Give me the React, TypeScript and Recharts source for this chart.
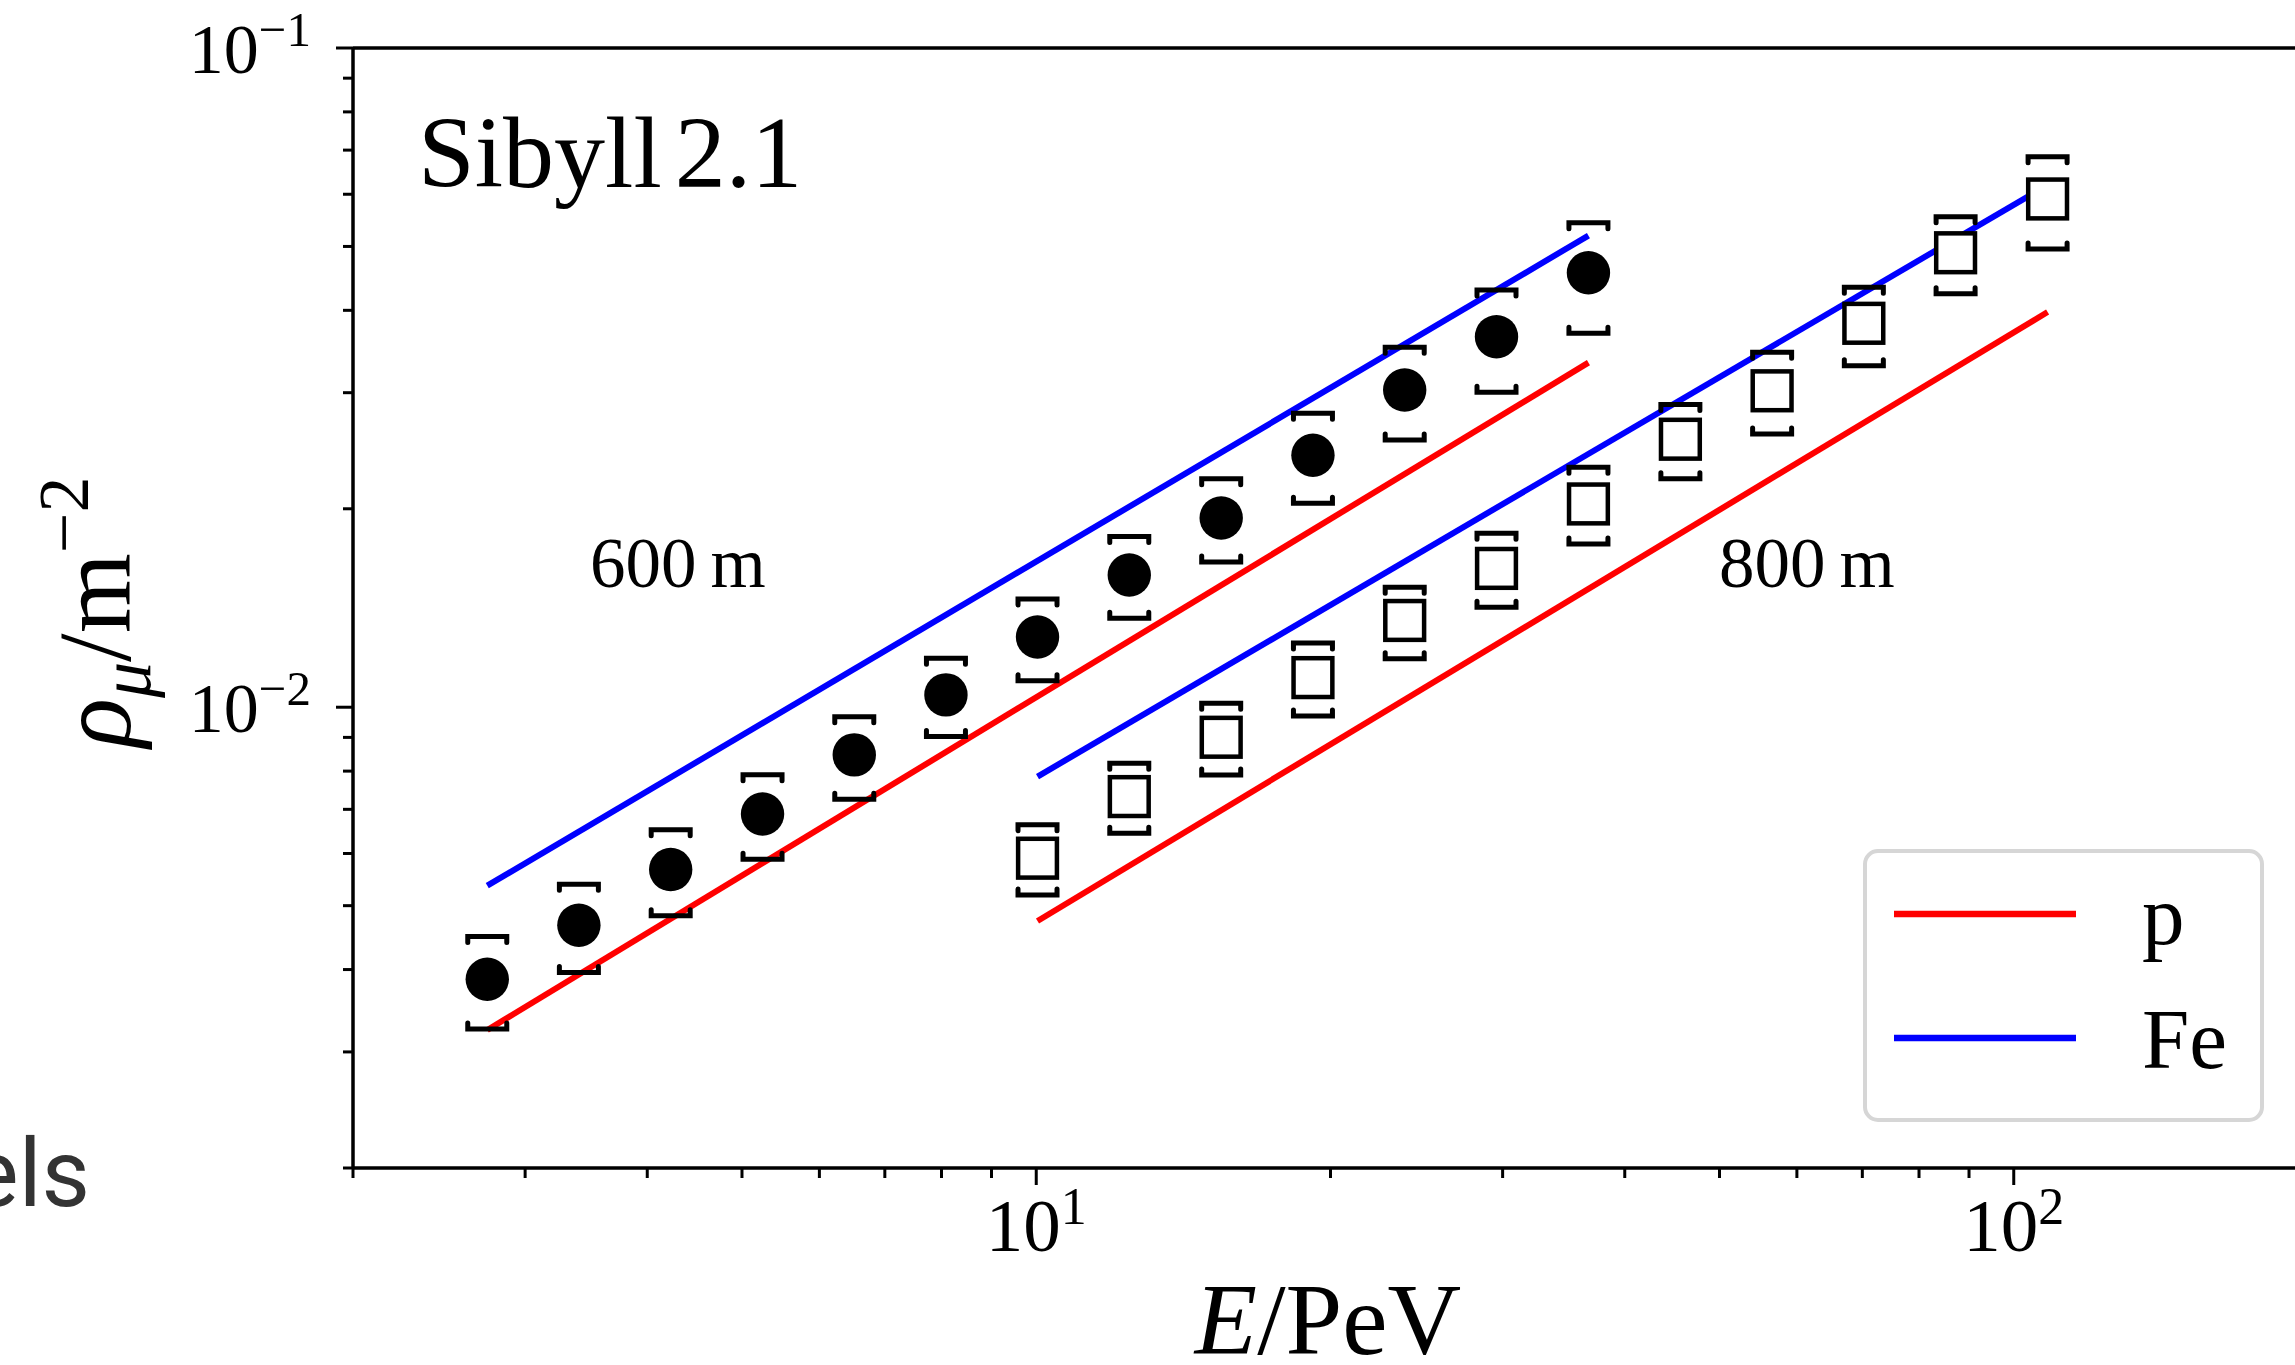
import React from 'react';
import { ComposedChart, Line, Scatter, XAxis, YAxis, ReferenceLine } from 'recharts';

// shower energies (PeV), same binning for both distances
const energy600 = [2.744, 3.405, 4.227, 5.248, 6.514, 8.084, 10.03, 12.45, 15.46, 19.19, 23.82, 29.57, 36.72];
const energy800 = [10.03, 12.45, 15.46, 19.19, 23.82, 29.57, 36.72, 45.6, 56.6, 70.25, 87.2, 108.3];

// muon density at 600 m (filled circles) with systematic brackets
const rho600 = [0.003867, 0.00467, 0.005672, 0.006887, 0.008466, 0.01044, 0.01278, 0.01587, 0.01937, 0.02411, 0.03028, 0.03648, 0.04561];
const rho600Hi = [0.004488, 0.005388, 0.006516, 0.007902, 0.009676, 0.01187, 0.01459, 0.01815, 0.02222, 0.02791, 0.03516, 0.04295, 0.0543];
const rho600Lo = [0.003251, 0.003958, 0.004825, 0.005882, 0.007252, 0.009024, 0.01097, 0.01365, 0.0166, 0.02039, 0.02543, 0.03004, 0.03692];

// muon density at 800 m (open squares)
const rho800 = [0.005902, 0.007319, 0.009004, 0.01109, 0.01354, 0.01624, 0.02034, 0.0255, 0.0302, 0.03823, 0.04891, 0.05902];
const rho800Hi = [0.006631, 0.008225, 0.01014, 0.01252, 0.0152, 0.01836, 0.02312, 0.02879, 0.03454, 0.04336, 0.05546, 0.06839];
const rho800Lo = [0.005192, 0.00644, 0.007893, 0.009701, 0.01184, 0.01418, 0.01769, 0.02222, 0.02598, 0.03297, 0.04237, 0.04955];

// Sibyll 2.1 predictions (power laws, straight in log-log)
const lineE600 = [2.744, 36.72];
const proton600 = [0.003239, 0.03332];
const iron600 = [0.005362, 0.05193];
const lineE800 = [10.03, 108.3];
const proton800 = [0.004739, 0.03977];
const iron800 = [0.007848, 0.06198];

const xTicks = [2, 3, 4, 5, 6, 7, 8, 9, 10, 20, 30, 40, 50, 60, 70, 80, 90, 100, 200];
const yTicks = [0.002, 0.003, 0.004, 0.005, 0.006, 0.007, 0.008, 0.009, 0.01, 0.02, 0.03, 0.04, 0.05, 0.06, 0.07, 0.08, 0.09, 0.1];

const FONT = '"Liberation Serif", "Times New Roman", serif';
const RED = '#ff0000';
const BLUE = '#0000ff';

const toPoints = (xs: number[], ys: number[]) => xs.map((E, i) => ({ E, v: ys[i] }));

const isDecade = (v: number) => Math.abs(Math.log10(v) - Math.round(Math.log10(v))) < 1e-6;

const YTick = ({ x, y, payload }: any) => {
  const v = payload.value;
  const major = isDecade(v);
  const exp = Math.round(Math.log10(v));
  return (
    <g>
      <line x1={x} y1={y} x2={x - (major ? 17 : 10)} y2={y} stroke="#000" strokeWidth={3} />
      {major && (
        <text x={x - 42} y={y + 25} textAnchor="end" fontFamily={FONT} fontSize={70} fill="#000">
          10<tspan dy={-27} fontSize={49}>{`\u2212${-exp}`}</tspan>
        </text>
      )}
    </g>
  );
};

const XTick = ({ x, y, payload }: any) => {
  const v = payload.value;
  const major = isDecade(v);
  const exp = Math.round(Math.log10(v));
  return (
    <g>
      <line x1={x} y1={y} x2={x} y2={y + (major ? 17 : 10)} stroke="#000" strokeWidth={3} />
      {major && (
        <text x={x} y={y + 83} textAnchor="middle" fontFamily={FONT} fontSize={75} fill="#000">
          10<tspan dy={-27} fontSize={52}>{`${exp}`}</tspan>
        </text>
      )}
    </g>
  );
};

const Dot = ({ cx, cy }: any) => <circle cx={cx} cy={cy} r={21.7} fill="#000" />;

const OpenSquare = ({ cx, cy }: any) => (
  <rect x={cx - 19.4} y={cy - 19.4} width={38.8} height={38.8} fill="#fff" stroke="#000" strokeWidth={4.5} />
);

const TopBracket = ({ cx, cy }: any) => (
  <path
    d={`M${cx - 19.5},${cy + 6} L${cx - 19.5},${cy} L${cx + 19.5},${cy} L${cx + 19.5},${cy + 6}`}
    fill="none" stroke="#000" strokeWidth={5} strokeLinecap="round"
  />
);

const BottomBracket = ({ cx, cy }: any) => (
  <path
    d={`M${cx - 19.5},${cy - 6} L${cx - 19.5},${cy} L${cx + 19.5},${cy} L${cx + 19.5},${cy - 6}`}
    fill="none" stroke="#000" strokeWidth={5} strokeLinecap="round"
  />
);

const Overlay = () => (
  <svg width={2295} height={1365} style={{ position: 'absolute', left: 0, top: 0, pointerEvents: 'none' }}>
    <text x={418} y={187} fontFamily={FONT} fontSize={102} fill="#000">
      Sibyll<tspan dx={13}>2.1</tspan>
    </text>
    <text x={590} y={587} fontFamily={FONT} fontSize={71} fill="#000">
      600<tspan dx={14}>m</tspan>
    </text>
    <text x={1719} y={587} fontFamily={FONT} fontSize={71} fill="#000">
      800<tspan dx={14}>m</tspan>
    </text>

    {/* axis titles */}
    <text x={1328} y={1354} textAnchor="middle" fontFamily={FONT} fontSize={102} fill="#000">
      <tspan fontStyle="italic">E</tspan>/PeV
    </text>
    <text transform="translate(130,612) rotate(-90)" textAnchor="middle" fontFamily={FONT} fontSize={103} fill="#000">
      <tspan fontStyle="italic">ρ</tspan>
      <tspan fontStyle="italic" fontSize={72} dy={20}>μ</tspan>
      <tspan dy={-20}>/m</tspan>
      <tspan fontSize={72} dy={-42}>{'\u22122'}</tspan>
    </text>

    {/* legend */}
    <rect x={1865} y={851} width={397} height={269} rx={13} fill="#fff" fillOpacity={0.8} stroke="#d6d6d6" strokeWidth={4} />
    <line x1={1894} y1={914} x2={2076} y2={914} stroke={RED} strokeWidth={6.5} />
    <text x={2142} y={944} fontFamily={FONT} fontSize={85} fill="#000">p</text>
    <line x1={1894} y1={1038} x2={2076} y2={1038} stroke={BLUE} strokeWidth={6.5} />
    <text x={2142} y={1068} fontFamily={FONT} fontSize={85} fill="#000">Fe</text>

    {/* leftover text from the source page */}
    <text x={90} y={1206} textAnchor="end" fontFamily="Roboto, sans-serif" fontSize={94} fill="#333">els</text>
  </svg>
);

export default function App() {
  return (
    <div style={{ position: 'absolute', left: 0, top: 0, width: 2295, height: 1365, overflow: 'hidden', background: '#fff' }}>
      <ComposedChart width={2310} height={1365} margin={{ top: 48, right: 2, bottom: 0, left: 0 }}>
        <XAxis
          dataKey="E"
          type="number"
          scale="log"
          domain={[2, 200]}
          allowDataOverflow
          ticks={xTicks}
          interval={0}
          height={197}
          tickSize={0}
          tickMargin={0}
          tickLine={false}
          tick={<XTick />}
          axisLine={{ stroke: '#000', strokeWidth: 3.5 }}
        />
        <YAxis
          dataKey="v"
          type="number"
          scale="log"
          domain={[0.002, 0.1]}
          allowDataOverflow
          ticks={yTicks}
          interval={0}
          width={353}
          tickSize={0}
          tickMargin={0}
          tickLine={false}
          tick={<YTick />}
          axisLine={{ stroke: '#000', strokeWidth: 3.5 }}
        />
        <ReferenceLine y={0.1} stroke="#000" strokeWidth={3.5} />

        <Scatter data={toPoints(energy600, rho600Hi)} dataKey="v" shape={<TopBracket />} isAnimationActive={false} legendType="none" />
        <Scatter data={toPoints(energy600, rho600Lo)} dataKey="v" shape={<BottomBracket />} isAnimationActive={false} legendType="none" />
        <Scatter data={toPoints(energy800, rho800Hi)} dataKey="v" shape={<TopBracket />} isAnimationActive={false} legendType="none" />
        <Scatter data={toPoints(energy800, rho800Lo)} dataKey="v" shape={<BottomBracket />} isAnimationActive={false} legendType="none" />

        <Line data={toPoints(lineE600, proton600)} dataKey="v" name="p" stroke={RED} strokeWidth={6} dot={false} isAnimationActive={false} />
        <Line data={toPoints(lineE600, iron600)} dataKey="v" name="Fe" stroke={BLUE} strokeWidth={6} dot={false} isAnimationActive={false} />
        <Line data={toPoints(lineE800, proton800)} dataKey="v" name="p" stroke={RED} strokeWidth={6} dot={false} isAnimationActive={false} />
        <Line data={toPoints(lineE800, iron800)} dataKey="v" name="Fe" stroke={BLUE} strokeWidth={6} dot={false} isAnimationActive={false} />

        <Scatter data={toPoints(energy600, rho600)} dataKey="v" shape={<Dot />} isAnimationActive={false} legendType="none" />
        <Scatter data={toPoints(energy800, rho800)} dataKey="v" shape={<OpenSquare />} isAnimationActive={false} legendType="none" />
      </ComposedChart>
      <Overlay />
    </div>
  );
}
